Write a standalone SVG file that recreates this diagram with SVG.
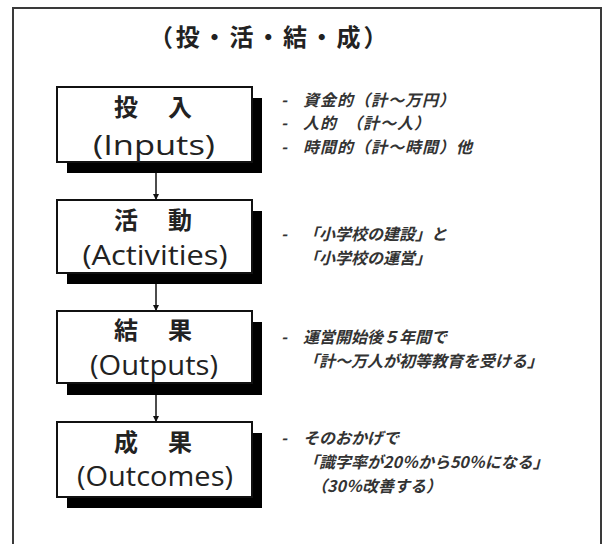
<svg xmlns="http://www.w3.org/2000/svg" width="606" height="544" viewBox="0 0 606 544">
<style>
.frame{fill:none;stroke:#3a3a3a;stroke-width:2}
.box{fill:#fff;stroke:#111;stroke-width:2}
.shadow{fill:#000}
.jp{font-family:"Noto Sans CJK JP","Noto Sans CJK SC",sans-serif;font-weight:bold;font-size:24px;fill:#222;text-anchor:middle}
.en{font-family:"Open Sans","Noto Sans",sans-serif;font-size:27px;fill:#222;text-anchor:middle}
.title{font-family:"Noto Sans CJK JP","Noto Sans CJK SC",sans-serif;font-weight:bold;font-size:24px;fill:#222;letter-spacing:2.8px}
.note{font-family:"Noto Sans CJK JP","Noto Sans CJK SC",sans-serif;font-weight:bold;font-style:italic;font-size:16px;fill:#333}
.conn{stroke:#111;stroke-width:1.5;fill:none}
</style>
<defs>
<marker id="arr" viewBox="0 0 10 10" refX="10" refY="5" markerWidth="6" markerHeight="6" markerUnits="userSpaceOnUse" orient="auto">
<path d="M0,0 L10,5 L0,10 Z" fill="#111"/>
</marker>
</defs>
<rect width="606" height="544" fill="#fff"/>
<rect class="frame" x="13" y="8" width="588" height="560"/>
<text class="title" x="149" y="46">（投・活・結・成）</text>

<g id="inputs">
<rect class="shadow" x="67" y="98" width="195" height="75"/>
<rect class="box" x="57" y="87" width="195" height="75"/>
<text class="jp" x="126" y="116">投</text>
<text class="jp" x="180" y="116">入</text>
<text class="en" x="154" y="155" textLength="122" lengthAdjust="spacingAndGlyphs">(Inputs)</text>
</g>
<g id="activities">
<rect class="shadow" x="67" y="211" width="195" height="73"/>
<rect class="box" x="57" y="200" width="195" height="73"/>
<text class="jp" x="126" y="229">活</text>
<text class="jp" x="180" y="229">動</text>
<text class="en" x="155" y="265" textLength="145" lengthAdjust="spacingAndGlyphs">(Activities)</text>
</g>
<g id="outputs">
<rect class="shadow" x="67" y="322" width="195" height="73"/>
<rect class="box" x="57" y="311" width="195" height="72"/>
<text class="jp" x="126" y="339">結</text>
<text class="jp" x="180" y="339">果</text>
<text class="en" x="154" y="375" textLength="128" lengthAdjust="spacingAndGlyphs">(Outputs)</text>
</g>
<g id="outcomes">
<rect class="shadow" x="67" y="433" width="195" height="75"/>
<rect class="box" x="57" y="422" width="195" height="75"/>
<text class="jp" x="126" y="451">成</text>
<text class="jp" x="180" y="451">果</text>
<text class="en" x="155" y="486" textLength="156" lengthAdjust="spacingAndGlyphs">(Outcomes)</text>
</g>

<g id="connectors">
<line class="conn" x1="156" y1="173" x2="156" y2="200" marker-end="url(#arr)"/>
<line class="conn" x1="156" y1="284" x2="156" y2="311" marker-end="url(#arr)"/>
<line class="conn" x1="156" y1="395" x2="156" y2="422" marker-end="url(#arr)"/>
</g>

<g id="notes-inputs">
<text class="note"><tspan x="281" y="105.5">-</tspan><tspan x="303" y="105.5" letter-spacing="1">資金的（計〜万円）</tspan><tspan x="281" y="129">-</tspan><tspan x="303" y="129" letter-spacing="1">人的　（計〜人）</tspan><tspan x="281" y="152.5">-</tspan><tspan x="303" y="152.5" letter-spacing="1">時間的（計〜時間）他</tspan></text>
</g>
<g id="notes-activities">
<text class="note"><tspan x="281" y="240">-</tspan><tspan x="303" y="240">「小学校の建設」と</tspan><tspan x="303" y="263.5">「小学校の運営」</tspan></text>
</g>
<g id="notes-outputs">
<text class="note"><tspan x="281" y="343">-</tspan><tspan x="303" y="343">運営開始後５年間で</tspan><tspan x="303" y="366.5">「計〜万人が初等教育を受ける」</tspan></text>
</g>
<g id="notes-outcomes">
<text class="note"><tspan x="281" y="444">-</tspan><tspan x="303" y="444">そのおかげで</tspan><tspan x="303" y="468">「識字率が20％から50％になる」</tspan><tspan x="311" y="492">（30％改善する）</tspan></text>
</g>
</svg>
